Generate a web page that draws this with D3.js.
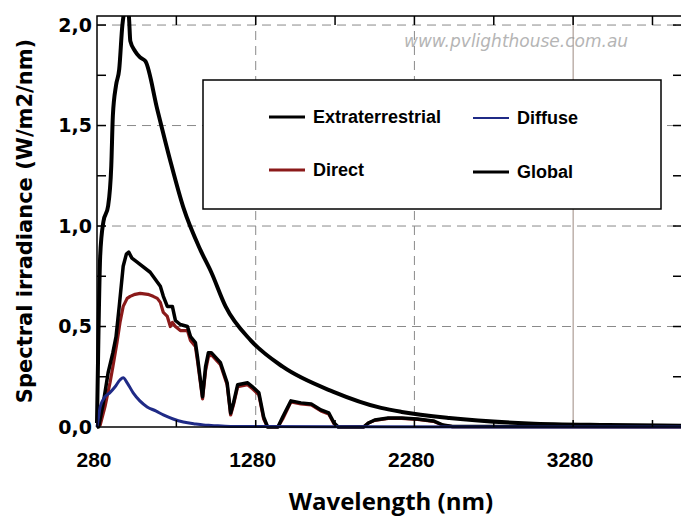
<!DOCTYPE html>
<html>
<head>
<meta charset="utf-8">
<script src="https://cdn.jsdelivr.net/npm/d3@7"></script>
<style>
  body { margin: 0; background: #fff; }
  svg { display: block; }
</style>
</head>
<body>
<div id="chart"></div>
<script>
'use strict';

// wavelength (nm), irradiance (W/m2/nm)
const extraterrestrial = [
  [280, 0.02], [290, 0.5], [300, 0.85], [320, 1.02], [350, 1.1], [370, 1.3],
  [380, 1.55], [400, 1.7], [420, 1.78], [440, 2.0], [460, 2.08], [480, 2.05],
  [490, 1.92], [520, 1.87], [550, 1.84], [585, 1.82], [660, 1.58], [740, 1.33],
  [825, 1.09], [932, 0.88], [1000, 0.77], [1090, 0.6], [1250, 0.43], [1450, 0.3],
  [1770, 0.175], [2070, 0.095], [2200, 0.075], [2500, 0.045], [3000, 0.018],
  [3500, 0.01], [3966, 0.006]
]

const global = [
  [280, 0], [290, 0.0], [300, 0.04], [320, 0.12], [350, 0.27], [380, 0.37],
  [400, 0.45], [420, 0.6], [445, 0.8], [465, 0.86], [480, 0.87], [500, 0.84],
  [533, 0.82], [615, 0.77], [679, 0.7], [698, 0.65], [723, 0.6], [755, 0.6],
  [774, 0.53], [805, 0.51], [850, 0.5], [869, 0.45], [900, 0.42], [913, 0.35],
  [945, 0.15], [964, 0.3], [982, 0.37], [1000, 0.37], [1058, 0.32], [1100, 0.22],
  [1122, 0.07], [1140, 0.12], [1166, 0.21], [1229, 0.22], [1260, 0.2], [1300, 0.17],
  [1330, 0.05], [1355, 0.0], [1420, 0.0], [1450, 0.05], [1502, 0.13], [1565, 0.12],
  [1630, 0.115], [1691, 0.085], [1740, 0.07], [1774, 0.02], [1800, 0.0], [1960, 0.0],
  [1990, 0.02], [2030, 0.035], [2115, 0.045], [2200, 0.045], [2300, 0.04],
  [2400, 0.03], [2460, 0.01], [2520, 0.003], [3000, 0.003], [3966, 0.002]
]

const direct = [
  [280, 0], [300, 0.01], [330, 0.1], [362, 0.22], [380, 0.3], [406, 0.42],
  [425, 0.52], [445, 0.6], [470, 0.64], [489, 0.65], [520, 0.66], [552, 0.665],
  [600, 0.66], [634, 0.65], [660, 0.64], [679, 0.62], [698, 0.57], [723, 0.55],
  [742, 0.5], [755, 0.52], [774, 0.5], [805, 0.48], [850, 0.48], [869, 0.43],
  [900, 0.4], [913, 0.33], [945, 0.14], [964, 0.28], [982, 0.35], [1000, 0.36],
  [1058, 0.31], [1100, 0.21], [1122, 0.06], [1140, 0.11], [1166, 0.2], [1229, 0.21],
  [1260, 0.19], [1300, 0.16], [1330, 0.04], [1355, 0], [1420, 0], [1450, 0.04],
  [1502, 0.125], [1565, 0.115], [1630, 0.11], [1691, 0.08], [1740, 0.065],
  [1774, 0.015], [1800, 0], [1960, 0], [1990, 0.02], [2030, 0.033], [2115, 0.043],
  [2200, 0.043], [2300, 0.038], [2400, 0.028], [2460, 0.008], [2520, 0.002],
  [3966, 0.001]
]

const diffuse = [
  [280, 0], [290, 0.05], [300, 0.1], [330, 0.15], [360, 0.17], [394, 0.2],
  [426, 0.235], [445, 0.245], [470, 0.22], [508, 0.17], [550, 0.13], [596, 0.1],
  [650, 0.08], [698, 0.06], [760, 0.04], [824, 0.025], [900, 0.015], [951, 0.01],
  [1000, 0.008], [1120, 0.003], [1300, 0.002], [2000, 0.001], [3966, 0]
]

const x_ticks = [280, 780, 1280, 1780, 2280, 2780, 3280, 3780]
const x_tick_labels = [280, 1280, 2280, 3280]
const y_ticks = [0, 0.25, 0.5, 0.75, 1.0, 1.25, 1.5, 1.75, 2.0]
const y_tick_labels = [0, 0.5, 1.0, 1.5, 2.0]
const y_grid = [0.5, 1.0, 1.5, 2.0]
const x_grid = [1280, 2280, 3280]

const series = [
  { name: 'Direct', data: direct, color: '#8b1a1a', width: 3.2, smooth: false },
  { name: 'Extraterrestrial', data: extraterrestrial, color: '#000', width: 4, smooth: true },
  { name: 'Global', data: global, color: '#000', width: 3.5, smooth: false },
  { name: 'Diffuse', data: diffuse, color: '#1f2a86', width: 3, smooth: true }
]

const dims = { width: 681, height: 519, left: 97, right: 682, top: 16, bottom: 427 }

const svg = d3.select('#chart').append('svg')
  .attr('width', dims.width)
  .attr('height', dims.height)

const xScale = d3.scaleLinear().domain([280, 3966]).range([dims.left, dims.right])
const yScale = d3.scaleLinear().domain([0, 2.045]).range([dims.bottom, dims.top])

const fmt = (d) => d3.format('.1f')(d).replace('.', ',')

// watermark
svg.append('text')
  .attr('x', 404)
  .attr('y', 47)
  .style('font-family', 'DejaVu Sans')
  .style('font-size', '17px')
  .style('font-style', 'italic')
  .style('fill', '#b5b5b5')
  .text('www.pvlighthouse.com.au')

// grid
svg.append('g').selectAll('line')
  .data(y_grid)
  .join('line')
  .attr('x1', dims.left).attr('x2', dims.right)
  .attr('y1', d => yScale(d)).attr('y2', d => yScale(d))
  .style('stroke', '#8a8a8a')
  .style('stroke-width', 1)
  .style('stroke-dasharray', '9,6')

svg.append('g').selectAll('line')
  .data(x_grid)
  .join('line')
  .attr('x1', d => xScale(d)).attr('x2', d => xScale(d))
  .attr('y1', dims.top).attr('y2', dims.bottom)
  .style('stroke', (d) => d === 3280 ? '#9c8a80' : '#8a8a8a')
  .style('stroke-width', 1)
  .style('stroke-dasharray', (d) => d === 3280 ? null : '9,6')

// legend box (hides grid behind it)
const legend_g = svg.append('g')
legend_g.append('rect')
  .attr('x', 203).attr('y', 80)
  .attr('width', 458).attr('height', 129)
  .style('fill', '#fff')
  .style('stroke', '#000')
  .style('stroke-width', 1.5)

const legend_items = [
  { s: 'Extraterrestrial', x: 269, y: 117 },
  { s: 'Diffuse', x: 473, y: 118 },
  { s: 'Direct', x: 269, y: 170 },
  { s: 'Global', x: 473, y: 172 }
]
const legendGroup = legend_g.selectAll('g.item')
  .data(legend_items)
  .join('g')
  .attr('class', 'item')
  .attr('transform', d => `translate(${d.x},${d.y})`)

legendGroup.append('line')
  .attr('x1', 0).attr('x2', 36)
  .style('stroke', d => series.find(s => s.name === d.s).color)
  .style('stroke-width', d => d.s === 'Diffuse' ? 2 : 3)

legendGroup.append('text')
  .attr('x', 44)
  .attr('dy', '0.35em')
  .style('font-family', 'Liberation Sans, Arial, sans-serif')
  .style('font-weight', 'bold')
  .style('font-size', '18px')
  .text(d => d.s)

// curves
svg.append('clipPath').attr('id', 'plot_clip')
  .append('rect')
  .attr('x', dims.left - 3).attr('y', dims.top)
  .attr('width', dims.right - dims.left + 3).attr('height', dims.bottom - dims.top + 3)

const line_linear = d3.line()
  .x(d => xScale(d[0]))
  .y(d => yScale(d[1]))
const line_smooth = d3.line()
  .curve(d3.curveMonotoneX)
  .x(d => xScale(d[0]))
  .y(d => yScale(d[1]))

svg.append('g')
  .attr('clip-path', 'url(#plot_clip)')
  .selectAll('path')
  .data(series)
  .join('path')
  .attr('d', d => d.smooth ? line_smooth(d.data) : line_linear(d.data))
  .style('fill', 'none')
  .style('stroke', d => d.color)
  .style('stroke-width', d => d.width)
  .style('stroke-linejoin', 'round')

// frame
svg.append('rect')
  .attr('x', dims.left).attr('y', dims.top)
  .attr('width', dims.right - dims.left).attr('height', dims.bottom - dims.top)
  .style('fill', 'none')
  .style('stroke', '#000')
  .style('stroke-width', 1.5)

// ticks
const ticks_g = svg.append('g').style('stroke', '#000').style('stroke-width', 1.5)
ticks_g.selectAll('line.top')
  .data(x_ticks.slice(1))
  .join('line')
  .attr('class', 'top')
  .attr('x1', d => xScale(d)).attr('x2', d => xScale(d))
  .attr('y1', dims.top).attr('y2', dims.top + 9)
ticks_g.selectAll('line.bot')
  .data(x_ticks.slice(1))
  .join('line')
  .attr('class', 'bot')
  .attr('x1', d => xScale(d)).attr('x2', d => xScale(d))
  .attr('y1', dims.bottom).attr('y2', dims.bottom - 7)
ticks_g.selectAll('line.left')
  .data(y_ticks.slice(1))
  .join('line')
  .attr('class', 'left')
  .attr('x1', dims.left).attr('x2', dims.left + 9)
  .attr('y1', d => yScale(d)).attr('y2', d => yScale(d))
ticks_g.selectAll('line.right')
  .data(y_ticks.slice(1))
  .join('line')
  .attr('class', 'right')
  .attr('x1', dims.right).attr('x2', dims.right - 9)
  .attr('y1', d => yScale(d)).attr('y2', d => yScale(d))

// tick labels
svg.append('g').selectAll('text')
  .data(y_tick_labels)
  .join('text')
  .attr('x', 92)
  .attr('y', d => yScale(d))
  .attr('dy', '0.36em')
  .style('text-anchor', 'end')
  .style('font-family', 'DejaVu Sans')
  .style('font-weight', 'bold')
  .style('font-size', '19px')
  .text(fmt)

svg.append('g').selectAll('text')
  .data(x_tick_labels)
  .join('text')
  .attr('x', d => xScale(d) - 3)
  .attr('y', 467)
  .style('text-anchor', 'middle')
  .style('font-family', 'Liberation Sans, Arial, sans-serif')
  .style('font-weight', 'bold')
  .style('font-size', '21px')
  .text(d => d)

// axis titles
svg.append('text')
  .attr('x', 391)
  .attr('y', 510)
  .style('text-anchor', 'middle')
  .style('font-family', 'Open Sans')
  .style('font-weight', 'bold')
  .style('font-size', '24px')
  .text('Wavelength (nm)')

svg.append('text')
  .attr('transform', 'translate(32, 221) rotate(-90)')
  .style('text-anchor', 'middle')
  .style('font-family', 'DejaVu Sans')
  .style('font-weight', 'bold')
  .style('font-size', '21px')
  .text('Spectral irradiance (W/m2/nm)')
</script>
</body>
</html>
